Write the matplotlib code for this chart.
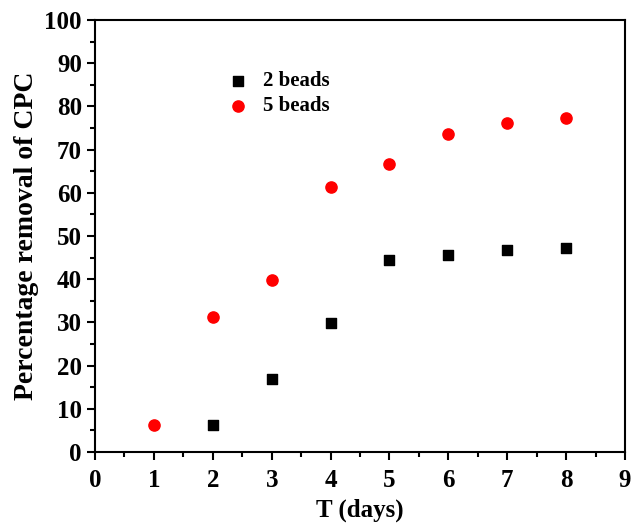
import matplotlib
matplotlib.use("Agg")
import matplotlib.pyplot as plt
from matplotlib.ticker import MultipleLocator

days_2 = [2, 3, 4, 5, 6, 7, 8]
removal_2 = [6.3, 16.8, 29.8, 44.4, 45.5, 46.7, 47.2]
days_5 = [1, 2, 3, 4, 5, 6, 7, 8]
removal_5 = [6.3, 31.3, 39.9, 61.3, 66.7, 73.5, 76.2, 77.3]

plt.rcParams['font.family'] = ['Liberation Serif', 'DejaVu Serif']
plt.rcParams['font.weight'] = 'bold'

fig = plt.figure(figsize=(6.31, 5.26), dpi=100)
ax = fig.add_axes([0.1506, 0.1407, 0.8399, 0.8213])

ax.scatter(days_2, removal_2, marker='s', s=60, color='black', label='2 beads', zorder=3)
ax.scatter(days_5, removal_5, marker='o', s=65, color='red', label='5 beads', zorder=3)

ax.set_xlim(0, 9)
ax.set_ylim(0, 100)
ax.xaxis.set_major_locator(MultipleLocator(1))
ax.xaxis.set_minor_locator(MultipleLocator(0.5))
ax.yaxis.set_major_locator(MultipleLocator(10))
ax.yaxis.set_minor_locator(MultipleLocator(5))
ax.tick_params(which='both', direction='out', top=False, right=False, width=1.5, labelsize=18)
ax.tick_params(axis='x', which='major', pad=6)
ax.tick_params(which='major', length=6)
ax.tick_params(which='minor', length=3.5)
for sp in ax.spines.values():
    sp.set_linewidth(1.5)
for lab in ax.get_xticklabels() + ax.get_yticklabels():
    lab.set_fontweight('bold')

ax.set_xlabel('T (days)', fontsize=18, fontweight='bold', labelpad=5)
ax.set_ylabel('Percentage removal of CPC', fontsize=20, fontweight='bold', labelpad=4)

ax.legend(loc='upper left', bbox_to_anchor=(0.21, 0.925), frameon=False,
          prop={'size': 15, 'weight': 'bold'}, handletextpad=0.6, labelspacing=0.25,
          scatterpoints=1, handlelength=1.2)

fig.savefig('out.png', dpi=100)
